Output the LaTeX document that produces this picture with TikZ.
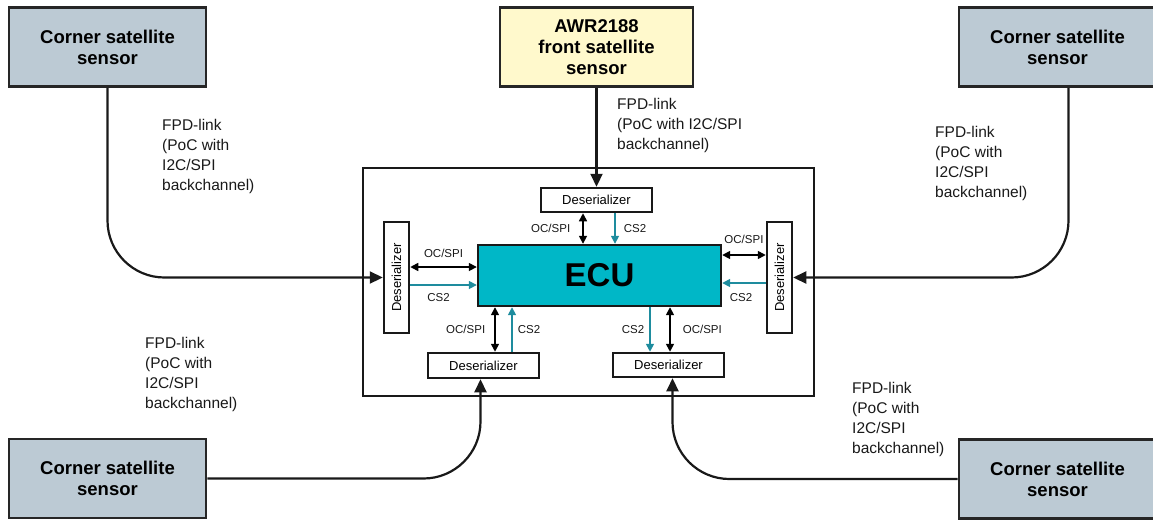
\documentclass[tikz,border=0pt]{standalone}
\usepackage{fontspec}
\setmainfont{Liberation Sans}
\usepackage{xcolor}
\usepackage{tikz}
\usetikzlibrary{arrows.meta, positioning}

\definecolor{sensorgray}{RGB}{188,202,212}
\definecolor{frontyellow}{RGB}{255,249,204}
\definecolor{ecuteal}{RGB}{0,183,199}
\definecolor{csteal}{RGB}{30,140,158}

\begin{document}
\begin{tikzpicture}[x=1pt, y=-1pt,
    sensor/.style={draw=black!85, line width=2.6pt, fill=sensorgray, align=center,
        inner sep=0pt, minimum width=197, minimum height=79,
        font=\fontsize{18.5}{21}\selectfont\bfseries},
    deser/.style={draw=black!90, line width=2.5pt, fill=white, inner sep=0pt,
        font=\fontsize{13}{15}\selectfont},
    link/.style={draw=black!90, line width=2.2pt, rounded corners=57pt,
        -{Triangle[length=13pt, width=12pt]}},
    bus/.style={line width=1.6pt,
        {Triangle[length=8pt, width=8pt]}-{Triangle[length=8pt, width=8pt]}},
    cs/.style={line width=1.6pt, draw=csteal, -{Triangle[length=8pt, width=8pt]}},
    sig/.style={inner sep=0pt, text=black!90, font=\fontsize{11.5}{13}\selectfont},
    fpd/.style={anchor=north west, align=left, inner sep=0pt, text=black!90,
        font=\fontsize{15.5}{20}\selectfont}]

    \useasboundingbox (0,0) rectangle (1153,520);

    % Satellite sensors
    \node[sensor] (cornerTL) at (107.5,47) {Corner satellite\\sensor};
    \node[sensor] (cornerTR) at (1057.5,47) {Corner satellite\\sensor};
    \node[sensor] (cornerBL) at (107.5,478.5) {Corner satellite\\sensor};
    \node[sensor] (cornerBR) at (1057.5,479) {Corner satellite\\sensor};
    \node[sensor, fill=frontyellow, minimum width=193] (front) at (596.5,47)
        {AWR2188\\front satellite\\sensor};

    % Board with the ECU
    \node[draw=black!90, line width=2.4pt, minimum width=451, minimum height=228] (board)
        at (588.5,282) {};
    \node[draw=black!90, line width=2.4pt, fill=ecuteal, minimum width=243, minimum height=61,
        font=\fontsize{33}{36}\selectfont\bfseries] (ecu) at (599.5,275.5) {ECU};

    % Deserializers
    \node[deser, minimum width=111, minimum height=24] (desT) at (596.5,200) {Deserializer};
    \node[deser, minimum width=25, minimum height=111] (desL) at (396.5,277.5)
        {\rotatebox{90}{Deserializer}};
    \node[deser, minimum width=25, minimum height=111] (desR) at (779.5,277.5)
        {\rotatebox{90}{Deserializer}};
    \node[deser, minimum width=111, minimum height=25] (desBL) at (483.5,365.5) {Deserializer};
    \node[deser, minimum width=111, minimum height=24] (desBR) at (668.5,365) {Deserializer};

    % FPD-links
    \draw[link] (cornerTL.south) |- (desL.west);
    \draw[link] (front.south) -- (desT.north);
    \draw[link] ([xshift=11]cornerTR.south) |- (desR.east);
    \draw[link] (cornerBL.east) -| ([xshift=-3]desBL.south);
    \draw[link] (cornerBR.west) -| ([xshift=4]desBR.south);

    \node[fpd] (fpdTL) at (162,119) {FPD-link\\(PoC with\\I2C/SPI\\backchannel)};
    \node[fpd] (fpdT) at (617,98) {FPD-link\\(PoC with I2C/SPI\\backchannel)};
    \node[fpd] (fpdTR) at (935,126) {FPD-link\\(PoC with\\I2C/SPI\\backchannel)};
    \node[fpd] (fpdBL) at (145,337) {FPD-link\\(PoC with\\I2C/SPI\\backchannel)};
    \node[fpd] (fpdBR) at (852,382) {FPD-link\\(PoC with\\I2C/SPI\\backchannel)};

    % Top deserializer to ECU
    \draw[bus] ([xshift=-13.5]desT.south) -- ([xshift=-13.5]desT.south |- ecu.north)
        node[sig, midway, left=12pt] {OC/SPI};
    \draw[cs] ([xshift=18.5]desT.south) -- ([xshift=18.5]desT.south |- ecu.north)
        node[sig, midway, right=8pt] {CS2};

    % Left deserializer to ECU
    \draw[bus] ([yshift=10.5]desL.east) -- ([yshift=10.5]desL.east -| ecu.west)
        node[sig, midway, above=9pt] {OC/SPI};
    \draw[cs] ([yshift=-7.5]desL.east) -- ([yshift=-7.5]desL.east -| ecu.west)
        node[sig, midway, below=8pt, xshift=-5] {CS2};

    % Right deserializer to ECU
    \draw[bus] ([yshift=22.5]desR.west) -- ([yshift=22.5]desR.west -| ecu.east)
        node[sig, midway, above=11pt] {OC/SPI};
    \draw[cs] ([yshift=-5.5]desR.west) -- ([yshift=-5.5]desR.west -| ecu.east)
        node[sig, midway, below=10pt, xshift=-3] {CS2};

    % Bottom deserializers to ECU
    \draw[bus] ([xshift=11.5]desBL.north) -- ([xshift=11.5]desBL.north |- ecu.south)
        node[sig, midway, left=9pt] {OC/SPI};
    \draw[cs] ([xshift=28.5]desBL.north) -- ([xshift=28.5]desBL.north |- ecu.south)
        node[sig, midway, right=5pt] {CS2};
    \draw[cs] ([xshift=-18.5]desBR.north |- ecu.south) -- ([xshift=-18.5]desBR.north)
        node[sig, midway, left=5pt] {CS2};
    \draw[bus] ([xshift=1.5]desBR.north) -- ([xshift=1.5]desBR.north |- ecu.south)
        node[sig, midway, right=12pt] {OC/SPI};

\end{tikzpicture}
\end{document}
